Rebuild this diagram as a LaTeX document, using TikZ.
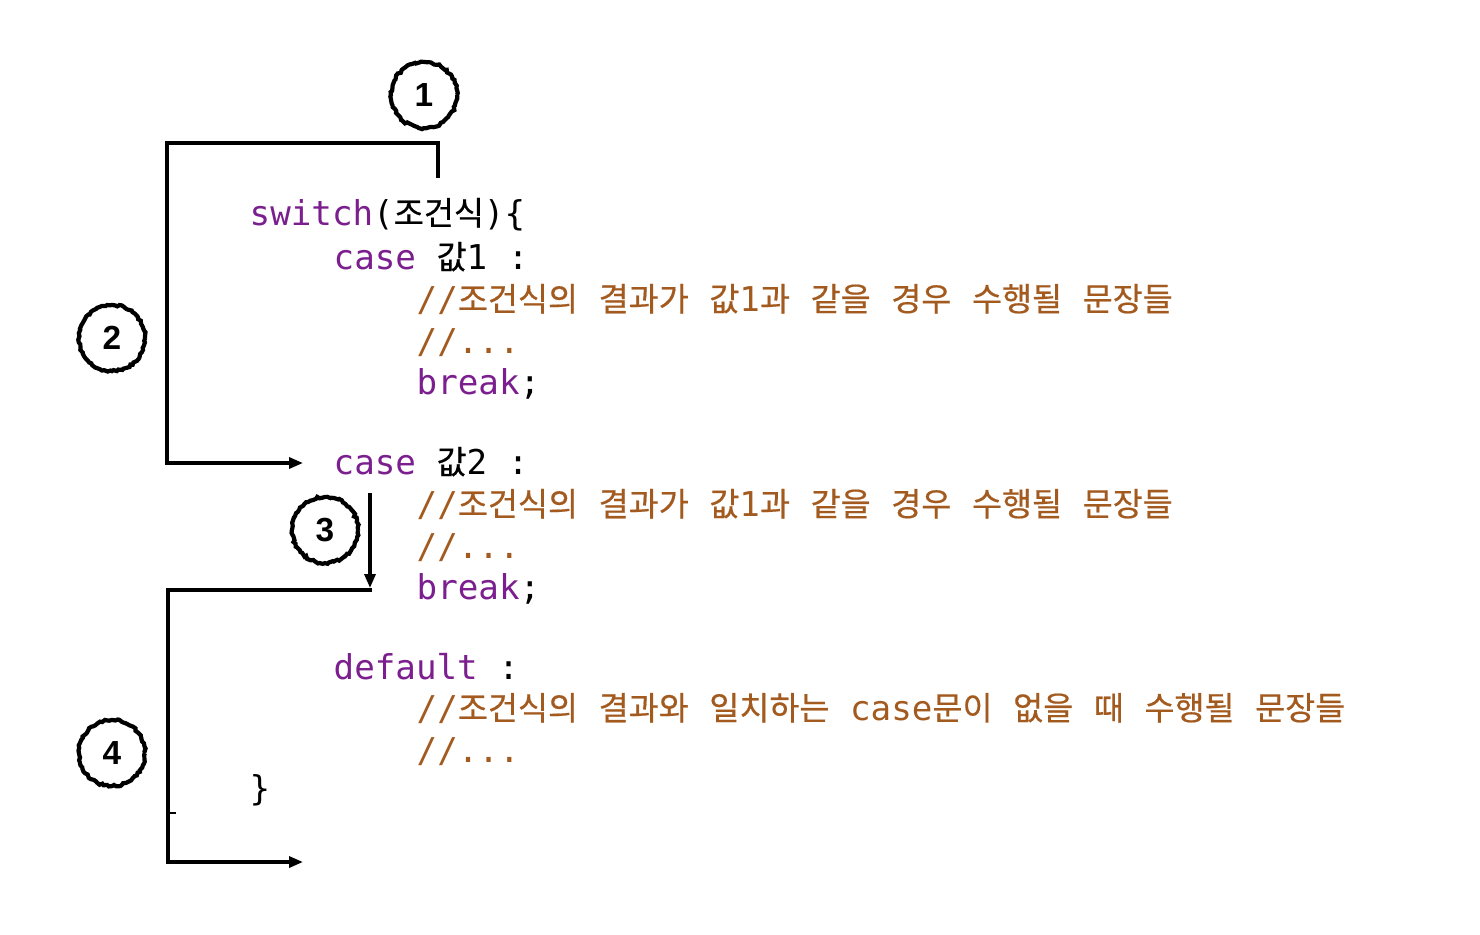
\documentclass[tikz,border=0pt]{standalone}
\usepackage{fontspec}
\setmonofont{DejaVu Sans Mono}
\setsansfont{Liberation Sans}
\newfontfamily\krfont[Scale=0.955,FakeBold=0.5]{Noto Sans CJK KR}
\usetikzlibrary{arrows.meta,decorations.pathmorphing}
\definecolor{kwpurple}{HTML}{7B1F8E}
\definecolor{cmtbrown}{HTML}{A35A1F}
\newcommand{\kr}[1]{{\krfont #1}}
\newcommand{\kw}[1]{\textcolor{kwpurple}{#1}}

\tikzset{
  codeline/.style={anchor=base west, inner sep=0pt,
    font=\ttfamily\fontsize{9.73pt}{12pt}\selectfont},
  cmtline/.style={codeline, text=cmtbrown},
  stepnum/.style={circle, draw, line width=1.2pt, minimum size=6.6mm, inner sep=0pt,
    font=\sffamily\bfseries\fontsize{9.5pt}{10pt}\selectfont,
    decorate, decoration={random steps, segment length=0.7pt, amplitude=0.3pt}},
  flow/.style={line width=0.33mm, -{Triangle[length=1.4mm,width=1.1mm]}}
}

\begin{document}
\begin{tikzpicture}[x=0.1mm,y=-0.1mm]
  \useasboundingbox (0,0) rectangle (1480,934);
  % code
  \node[codeline] (sw) at (249,225) {\kw{switch}(\kr{조건식})\{};
  \node[codeline] (case1) at (333,269) {\kw{case} \kr{값}1 :};
  \node[cmtline] (c1a) at (416,311) {//\kr{조건식의} \kr{결과가} \kr{값}1\kr{과} \kr{같을} \kr{경우} \kr{수행될} \kr{문장들}};
  \node[cmtline] (c1b) at (416,353) {//...};
  \node[codeline] (brk1) at (416,394) {\kw{break};};
  \node[codeline] (case2) at (333,474) {\kw{case} \kr{값}2 :};
  \node[cmtline] (c2a) at (416,516) {//\kr{조건식의} \kr{결과가} \kr{값}1\kr{과} \kr{같을} \kr{경우} \kr{수행될} \kr{문장들}};
  \node[cmtline] (c2b) at (416,558) {//...};
  \node[codeline] (brk2) at (416,599) {\kw{break};};
  \node[codeline] (dflt) at (333,679) {\kw{default} :};
  \node[cmtline] (c3a) at (416,720) {//\kr{조건식의} \kr{결과와} \kr{일치하는} case\kr{문이} \kr{없을} \kr{때} \kr{수행될} \kr{문장들}};
  \node[cmtline] (c3b) at (416,762) {//...};
  \node[codeline] (cls) at (249,800) {\}};

  % step numbers
  \node[stepnum] (n1) at (424,95) {1};
  \node[stepnum] (n2) at (112,338) {2};
  \node[stepnum] (n3) at (325,530) {3};
  \node[stepnum] (n4) at (112,753) {4};

  % flow lines
  \coordinate (in1) at (438,178);
  \coordinate (top1) at (167,143);
  \coordinate (to2) at (303,463);
  \draw[flow] (in1) |- (top1) |- (to2);

  \coordinate (in3) at (370,493);
  \coordinate (out3) at (370,588);
  \draw[flow] (in3) -- (out3);

  \coordinate (in4) at (372,590);
  \coordinate (bot4) at (168,862);
  \coordinate (to4) at (303,862);
  \draw[flow] (in4) -| (bot4) -- (to4);
  \draw[line width=0.15mm] (168,813) -- (176,813);
\end{tikzpicture}
\end{document}
